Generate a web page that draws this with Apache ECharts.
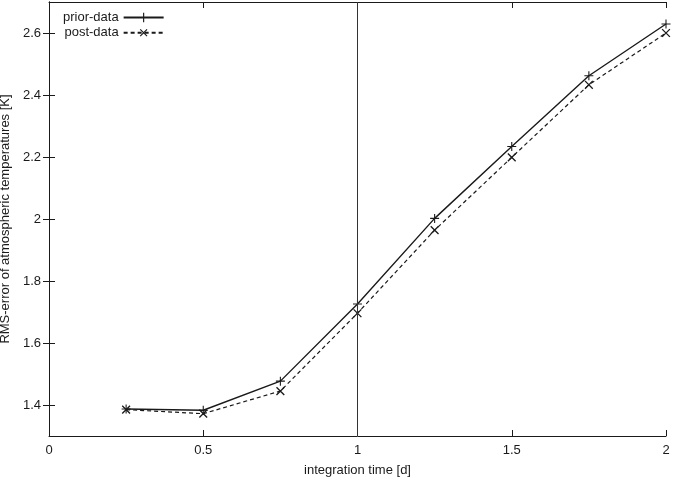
<!DOCTYPE html>
<html>
<head>
<meta charset="utf-8">
<script src="https://cdn.jsdelivr.net/npm/echarts@6/dist/echarts.min.js"></script>
<style>
html,body{margin:0;padding:0;background:#fff;}
#chart{width:673px;height:479px;}
</style>
</head>
<body>
<div id="chart"></div>
<script>
const xValues = [0.25, 0.5, 0.75, 1.0, 1.25, 1.5, 1.75, 2.0];
const priorData = [1.387, 1.383, 1.477, 1.726, 2.002, 2.234, 2.462, 2.629];
const postData = [1.385, 1.372, 1.445, 1.696, 1.964, 2.199, 2.433, 2.600];
const yTicks = [1.4, 1.6, 1.8, 2.0, 2.2, 2.4, 2.6];
const markerX = 1;

const font = "'Liberation Sans', Arial, sans-serif";
const ink = '#1a1a1a';
const plusPath = 'path://M4.4,0h1.2v10h-1.2z M0,4.4h10v1.2h-10z';

const chart = echarts.init(document.getElementById('chart'), null, {renderer: 'canvas'});

const tickStyle = {show: true, inside: true, length: 6, lineStyle: {color: ink, width: 1}};
const lineAx = {show: true, lineStyle: {color: ink, width: 1}};

chart.setOption({
  animation: false,
  backgroundColor: '#fff',
  textStyle: {fontFamily: font},
  grid: {left: 49, right: 7, top: 2, bottom: 43, containLabel: false, outerBoundsMode: 'none'},
  legend: {
    orient: 'vertical',
    left: 58,
    top: 6,
    align: 'right',
    itemWidth: 40,
    itemHeight: 12,
    itemGap: 2,
    textStyle: {fontFamily: font, fontSize: 13, color: ink},
    data: ['prior-data', 'post-data']
  },
  xAxis: [{
    type: 'value', min: 0, max: 2, interval: 0.5,
    name: 'integration time [d]', nameLocation: 'middle', nameGap: 28,
    nameTextStyle: {fontFamily: font, fontSize: 13, color: ink},
    axisLine: lineAx, axisTick: tickStyle,
    axisLabel: {fontFamily: font, fontSize: 13, color: ink, margin: 8},
    splitLine: {show: false}
  }, {
    type: 'value', min: 0, max: 2, interval: 0.5, position: 'top',
    axisLine: lineAx, axisTick: tickStyle,
    axisLabel: {show: false}, splitLine: {show: false}
  }],
  yAxis: [{
    type: 'value', min: 1.3, max: 2.7,
    name: 'RMS-error of atmospheric temperatures [K]', nameLocation: 'middle', nameGap: 33,
    nameTextStyle: {fontFamily: font, fontSize: 13, color: ink},
    axisLine: lineAx,
    axisTick: Object.assign({customValues: yTicks}, tickStyle),
    axisLabel: {fontFamily: font, fontSize: 13, color: ink, margin: 8, customValues: yTicks,
      formatter: v => String(Math.round(v * 10) / 10)},
    splitLine: {show: false}
  }, {
    type: 'value', min: 1.3, max: 2.7, position: 'right',
    axisLine: lineAx,
    axisTick: Object.assign({customValues: yTicks}, tickStyle),
    axisLabel: {show: false}, splitLine: {show: false}
  }],
  series: [{
    name: 'prior-data',
    type: 'line',
    data: xValues.map((x, i) => [x, priorData[i]]),
    symbol: plusPath,
    symbolSize: 9,
    lineStyle: {color: ink, width: 1.4, type: 'solid'},
    itemStyle: {color: ink},
    markLine: {
      silent: true,
      symbol: ['none', 'none'],
      label: {show: false},
      lineStyle: {color: '#333', width: 1, type: 'solid'},
      data: [{xAxis: markerX}]
    }
  }, {
    name: 'post-data',
    type: 'line',
    data: xValues.map((x, i) => [x, postData[i]]),
    symbol: plusPath,
    symbolRotate: 45,
    symbolSize: 11,
    lineStyle: {color: ink, width: 1.2, type: [4, 3]},
    itemStyle: {color: ink}
  }]
});
</script>
</body>
</html>
